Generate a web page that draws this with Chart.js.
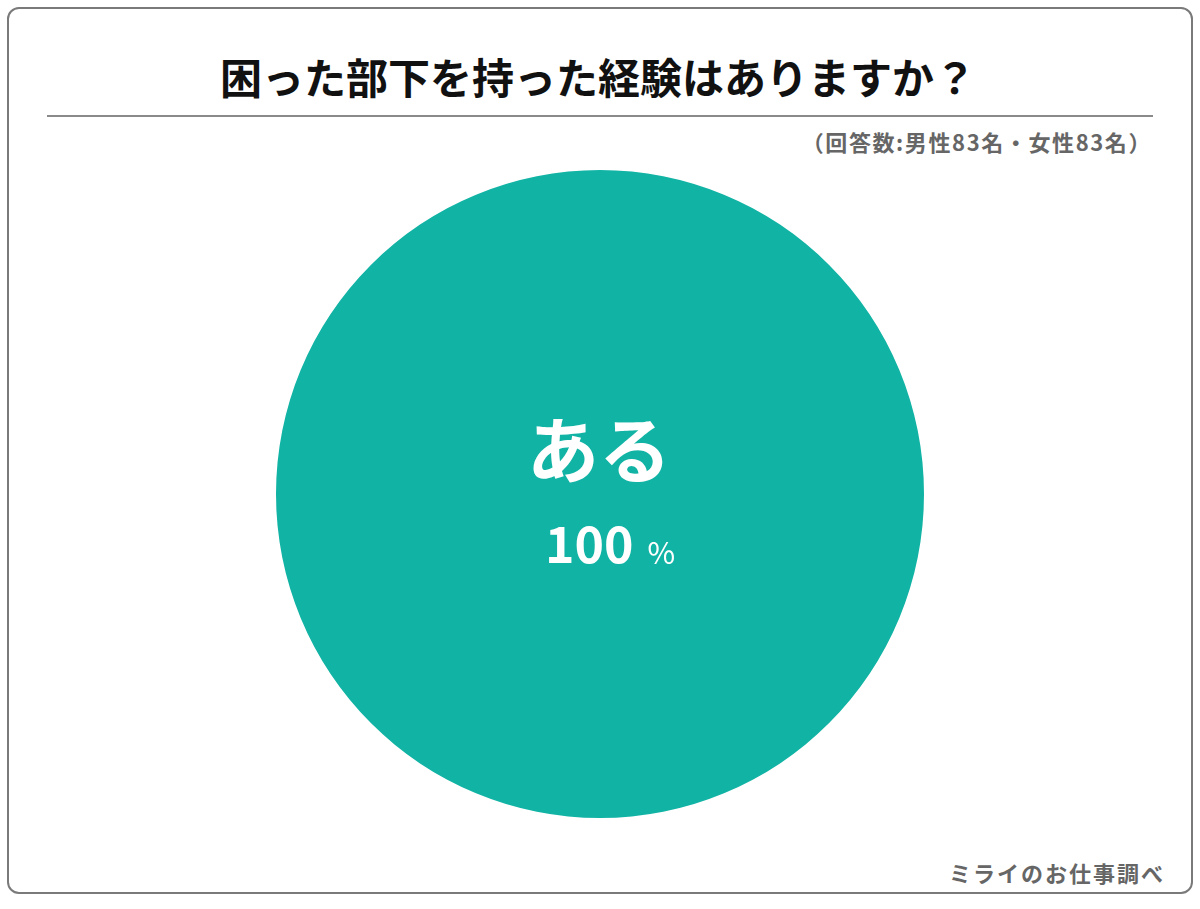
<!DOCTYPE html>
<html>
<head>
<meta charset="utf-8">
<script src="https://cdn.jsdelivr.net/npm/chart.js@4"></script>
<style>
  html, body { margin: 0; padding: 0; background: #fff; }
  body { width: 1200px; height: 909px; position: relative; overflow: hidden;
         font-family: "Noto Sans CJK JP", "Noto Sans", sans-serif; }
  .card { position: absolute; left: 7px; top: 7px; width: 1182px; height: 883px;
          border: 2px solid #7a7a7a; border-radius: 12px; }
  .title { position: absolute; left: 0; width: 1196px; top: 50px; text-align: center;
           font-size: 42px; font-weight: 700; color: #111; line-height: 52px; }
  .rule { position: absolute; left: 47px; width: 1106px; top: 115px; height: 2px; background: #8a8a8a; }
  .sub { position: absolute; right: 48px; top: 126px; font-size: 22px; font-weight: 700; color: #666; line-height: 30px; letter-spacing: 1.6px; }
  .foot { position: absolute; right: 35px; top: 857px; font-size: 22px; font-weight: 700; color: #666; line-height: 30px; letter-spacing: 2px; }
  #wrap { position: absolute; left: 0; top: 0; width: 1200px; height: 909px; }
</style>
</head>
<body>
<div class="card"></div>
<div class="title">困った部下を持った経験はありますか？</div>
<div class="rule"></div>
<div class="sub">（回答数:男性83名・女性83名）</div>
<div class="foot">ミライのお仕事調べ</div>
<div id="wrap"><canvas id="pieChart"></canvas></div>
<script>
// data
var labels = ['ある'];
var values = [100];
var colors = ['#10b3a4'];

// draws the label + percent inside each slice
var sliceLabels = {
    id: 'sliceLabels',
    afterDatasetsDraw: function (chart) {
        var ctx = chart.ctx;
        var meta = chart.getDatasetMeta(0);
        meta.data.forEach(function (arc, i) {
            var x = arc.x, y = arc.y;
            if (values.length > 1) {
                var p = arc.tooltipPosition();
                x = p.x; y = p.y;
            }
            ctx.save();
            ctx.fillStyle = '#fff';
            ctx.textAlign = 'center';
            ctx.textBaseline = 'middle';
            ctx.font = '700 72px "Noto Sans CJK JP"';
            ctx.fillText(labels[i], x - 1, y - 44);
            ctx.font = '700 50px "Noto Sans CJK JP"';
            var num = String(values[i]);
            var nw = ctx.measureText(num).width;
            ctx.font = '400 30px "Noto Sans CJK JP"';
            var pw = ctx.measureText('%').width;
            var total = nw + 14 + pw;
            var sx = x + 10 - total / 2;
            ctx.textAlign = 'left';
            ctx.font = '700 50px "Noto Sans CJK JP"';
            ctx.fillText(num, sx, y + 50);
            ctx.font = '400 30px "Noto Sans CJK JP"';
            ctx.fillText('%', sx + nw + 14, y + 59);
            ctx.restore();
        });
    }
};

var ctx = document.getElementById('pieChart');
var myChart = new Chart(ctx, {
    type: 'pie',
    data: {
        labels: labels,
        datasets: [{
            data: values,
            backgroundColor: colors,
            borderWidth: 0
        }]
    },
    options: {
        responsive: true,
        maintainAspectRatio: false,
        animation: false,
        layout: { padding: { top: 170, bottom: 91, left: 275, right: 275 } },
        plugins: {
            legend: { display: false },
            tooltip: { enabled: false }
        }
    },
    plugins: [sliceLabels]
});
</script>
</body>
</html>
